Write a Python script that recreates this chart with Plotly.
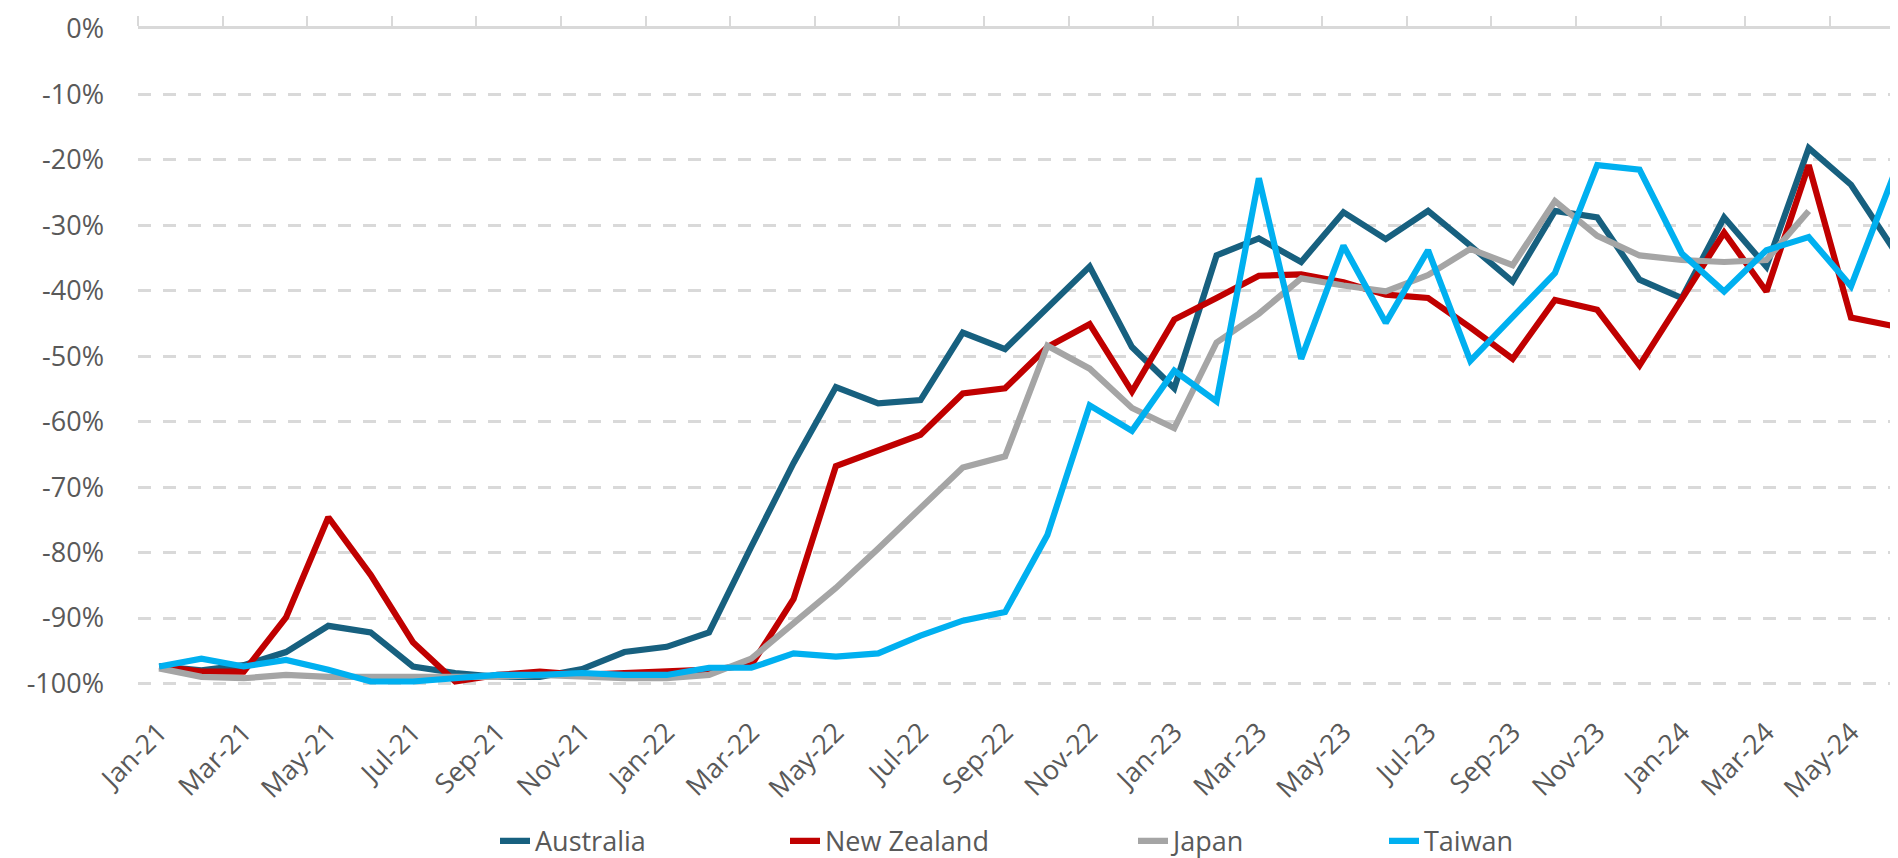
import plotly.graph_objects as go

# Month categories (Jan-21 .. Jun-24)
months = [
    "Jan-21", "Feb-21", "Mar-21", "Apr-21", "May-21", "Jun-21", "Jul-21", "Aug-21", "Sep-21", "Oct-21", "Nov-21", "Dec-21",
    "Jan-22", "Feb-22", "Mar-22", "Apr-22", "May-22", "Jun-22", "Jul-22", "Aug-22", "Sep-22", "Oct-22", "Nov-22", "Dec-22",
    "Jan-23", "Feb-23", "Mar-23", "Apr-23", "May-23", "Jun-23", "Jul-23", "Aug-23", "Sep-23", "Oct-23", "Nov-23", "Dec-23",
    "Jan-24", "Feb-24", "Mar-24", "Apr-24", "May-24", "Jun-24",
]

# % change vs pre-covid
australia = [
    -97.4, -98.0, -97.2, -95.2, -91.2, -92.2, -97.4, -98.4, -99.0, -99.0, -97.8, -95.2,
    -94.4, -92.2, -79.1, -66.3, -54.7, -57.2, -56.7, -46.4, -48.9, -42.5, -36.3, -48.6,
    -54.9, -34.6, -32.0, -35.6, -28.0, -32.1, -27.8, -33.1, -38.6, -27.8, -28.8, -38.3,
    -41.1, -28.8, -36.3, -18.2, -23.8, -33.6,
]
new_zealand = [
    -97.4, -98.2, -98.2, -89.9, -74.6, -83.4, -93.7, -99.7, -98.7, -98.2, -98.7, -98.4,
    -98.2, -97.9, -97.2, -87.1, -66.8, -64.3, -62.0, -55.7, -54.9, -48.6, -45.1, -55.4,
    -44.4, -41.1, -37.7, -37.5, -38.7, -40.6, -41.1, -45.6, -50.4, -41.4, -42.9, -51.4,
    -41.1, -31.1, -40.1, -20.8, -44.1, -45.4,
]
japan = [
    -97.7, -99.0, -99.2, -98.7, -99.0, -99.0, -99.2, -99.2, -99.0, -98.7, -99.0, -99.2,
    -99.2, -98.7, -96.2, -90.7, -85.4, -79.4, -73.3, -67.0, -65.3, -48.4, -51.9, -57.9,
    -61.0, -47.9, -43.5, -38.1, -39.2, -40.1, -37.6, -33.6, -36.1, -26.3, -31.6, -34.6,
    -35.3, -35.6, -35.3, -27.8, None, None,
]
taiwan = [
    -97.4, -96.2, -97.4, -96.4, -97.9, -99.7, -99.7, -99.2, -98.7, -98.7, -98.4, -98.7,
    -98.7, -97.6, -97.6, -95.4, -95.9, -95.4, -92.7, -90.4, -89.1, -77.3, -57.5, -61.4,
    -52.2, -56.9, -22.8, -50.4, -33.1, -44.9, -33.8, -50.7, -43.9, -37.3, -20.8, -21.5,
    -34.3, -40.1, -33.8, -31.8, -39.3, -22.5,
]

y_ticks = [0, -10, -20, -30, -40, -50, -60, -70, -80, -90, -100]
y_labels = ["0%", "-10%", "-20%", "-30%", "-40%", "-50%", "-60%", "-70%", "-80%", "-90%", "-100%"]

# name, values, colour, legend id, legend left edge (px)
series = [
    ("Australia", australia, "#17607f", "legend", 487),
    ("New Zealand", new_zealand, "#c00000", "legend2", 777),
    ("Japan", japan, "#a5a5a5", "legend3", 1125),
    ("Taiwan", taiwan, "#00b0f0", "legend4", 1376),
]

font = dict(family="Open Sans", size=27, color="#595959")
x = list(range(len(months)))
x_range = [-0.5, 41.3]

fig = go.Figure()

for name, vals, color, leg, _ in series:
    fig.add_trace(go.Scatter(
        x=x, y=vals, name=name, mode="lines",
        line=dict(color=color, width=6.2),
        legend=leg,
    ))

# dummy trace so the top (tick) axis gets drawn
fig.add_trace(go.Scatter(x=[None], y=[None], xaxis="x2", showlegend=False, hoverinfo="skip"))

L, W = 130, 1898 - 130
legends = {}
for name, vals, color, leg, px in series:
    legends[leg] = dict(
        x=(px - L) / W, y=-0.229, xanchor="left", yanchor="middle",
        orientation="h", font=font, bgcolor="rgba(0,0,0,0)",
    )

fig.update_layout(
    width=1898, height=858,
    margin=dict(l=L, r=0, t=21, b=170),
    plot_bgcolor="white", paper_bgcolor="white",
    font=font,
    xaxis=dict(
        range=x_range,
        tickvals=x[::2], ticktext=months[::2],
        tickangle=-45, ticks="", showgrid=False, showline=False, zeroline=False,
        ticklabelstandoff=20, tickfont=font,
    ),
    xaxis2=dict(
        overlaying="x", side="top", range=x_range,
        tickvals=[i - 0.5 for i in x[::2]],
        ticks="outside", ticklen=10, tickwidth=2, tickcolor="#d9d9d9",
        showline=True, linecolor="#d9d9d9", linewidth=3,
        showticklabels=False, showgrid=False, zeroline=False,
    ),
    yaxis=dict(
        range=[-101, 0],
        tickvals=y_ticks, ticktext=y_labels,
        showgrid=True, gridcolor="#d9d9d9", griddash="13px,12px", gridwidth=3,
        zeroline=False, showline=False, ticks="",
        ticklabelstandoff=33, tickfont=font,
    ),
    hovermode=False,
    **legends,
)

fig.write_html("out.html")
